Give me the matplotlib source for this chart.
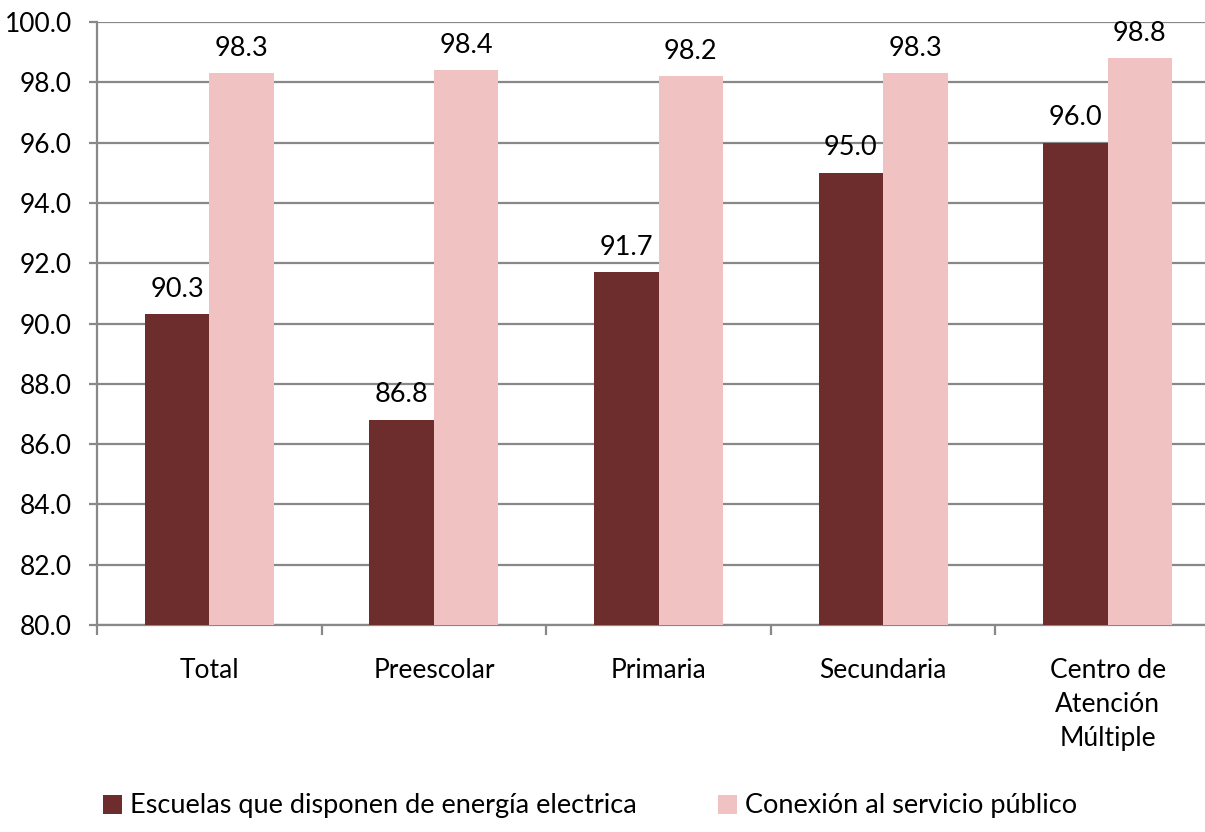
import matplotlib.pyplot as plt
import numpy as np

plt.rcParams['font.family'] = ['Lato', 'DejaVu Sans']
plt.rcParams['font.size'] = 19

categorias = ['Total', 'Preescolar', 'Primaria', 'Secundaria',
              'Centro de\nAtención\nMúltiple']
energia = [90.3, 86.8, 91.7, 95.0, 96.0]
conexion = [98.3, 98.4, 98.2, 98.3, 98.8]
serie_nombres = ['Escuelas que disponen de energía electrica',
                 'Conexión al servicio público']
col_oscuro = '#6E2D2D'
col_claro = '#F1C2C2'
gris = '#888888'

fig = plt.figure(figsize=(12.05, 8.32), dpi=100)
# plot area runs a bit past the right edge, like the original crop
ax = fig.add_axes([97/1205, 1 - 625/832, 1123/1205, 603/832])

x = np.arange(len(categorias))
w = 0.287
b1 = ax.bar(x - w/2, [v - 80 for v in energia], w, bottom=80, color=col_oscuro,
            label=serie_nombres[0], zorder=3)
b2 = ax.bar(x + w/2, [v - 80 for v in conexion], w, bottom=80, color=col_claro,
            label=serie_nombres[1], zorder=3)

for bars, vals in ((b1, energia), (b2, conexion)):
    for r, v in zip(bars, vals):
        ax.annotate(f'{v:.1f}', (r.get_x() + r.get_width()/2, v),
                    xytext=(0, 9), textcoords='offset points',
                    ha='center', va='bottom', fontsize=19.5)

ax.set_xlim(-0.5, len(categorias) - 0.5)
ax.set_ylim(80, 100)
ax.set_yticks(np.arange(80, 100.1, 2))
ax.set_yticklabels([f'{t:.1f}' for t in np.arange(80, 100.1, 2)])
ax.yaxis.grid(True, color=gris, linewidth=1.6, zorder=0)
ax.set_axisbelow(True)

ax.set_xticks(x)
ax.set_xticklabels(categorias, linespacing=1.45, va='top')
ax.set_xticks(np.arange(-0.5, len(categorias), 1), minor=True)
ax.tick_params(axis='x', which='major', length=0, pad=24)
ax.tick_params(axis='x', which='minor', length=7, width=1.6, color=gris)
ax.tick_params(axis='y', length=6, width=1.6, color=gris, pad=12)

for s in ('top', 'right'):
    ax.spines[s].set_visible(False)
for s in ('left', 'bottom'):
    ax.spines[s].set_color(gris)
    ax.spines[s].set_linewidth(1.6)

fig.legend(handles=[b1, b2], loc='center', bbox_to_anchor=(0.49, 1 - 806/832),
           ncol=2, frameon=False, handlelength=0.7, handleheight=0.7,
           handletextpad=0.3, columnspacing=3.0, fontsize=19.5)

fig.savefig('out.png', dpi=100)
